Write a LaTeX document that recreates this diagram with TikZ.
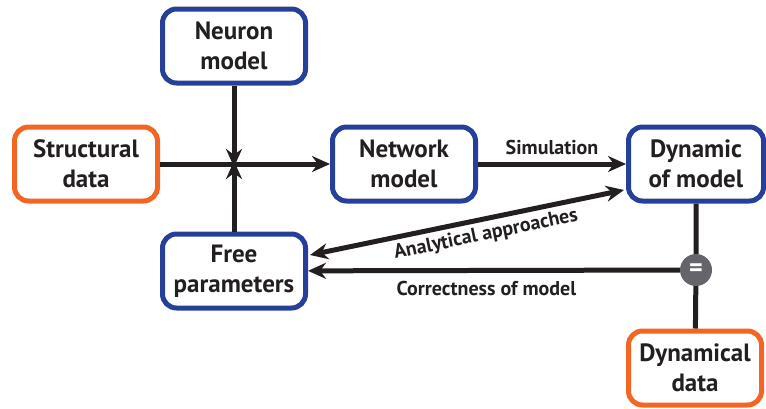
\documentclass[tikz,border=0pt]{standalone}
\usepackage{fontspec}
\setmainfont{PT Sans}
\usepackage{xcolor}
\usetikzlibrary{positioning,arrows.meta}
\definecolor{boxblue}{RGB}{38,64,154}
\definecolor{boxorange}{RGB}{242,101,34}
\definecolor{eqgray}{RGB}{100,100,106}
\definecolor{ink}{RGB}{35,31,32}

\begin{document}
\begin{tikzpicture}[
  x=1pt, y=-1pt,
  box/.style={draw=boxblue, line width=5pt, rounded corners=14pt, align=center,
    font=\bfseries\fontsize{25}{30}\selectfont, text=ink,
    minimum width=143pt, minimum height=74pt, inner sep=2pt},
  databox/.style={box, draw=boxorange},
  arr/.style={-{Stealth[length=18pt,width=16pt]}, line width=5pt, draw=ink},
  lbl/.style={font=\bfseries\fontsize{20}{22}\selectfont, text=ink}
]
\useasboundingbox (0,0) rectangle (766,408);
\node[box] (neuron) at (234,46) {Neuron\\model};
\node[databox] (struct) at (86,164) {Structural\\data};
\node[box] (network) at (404,164) {Network\\model};
\node[box, minimum width=135pt] (dyn) at (696,164) {Dynamic\\of model};
\node[box] (free) at (234,271) {Free\\parameters};
\node[databox, minimum width=133pt] (ddata) at (695,368) {Dynamical\\data};
\node[circle, fill=eqgray, minimum size=32pt, inner sep=0pt, text=white,
  font=\bfseries\fontsize{26}{26}\selectfont] (eq) at (696,270) {=};
\coordinate (junc) at (234,164);
\coordinate (dynin) at (624,190);
\coordinate (freein) at (310,255);

% inputs into the network model
\draw[arr] (struct) -- (network);
\draw[arr] (neuron) -- ([yshift=-3pt]junc);
\draw[arr] (free) -- ([yshift=3pt]junc);
% model outputs
\draw[arr] (network) -- node[lbl, above=3pt] {Simulation} (dyn);
\draw[arr, {Stealth[length=18pt,width=16pt]}-{Stealth[length=18pt,width=16pt]}]
  (freein) -- node[lbl, sloped, below=1pt, pos=0.55] {Analytical approaches} (dynin);
% comparison with data
\draw[line width=5pt, ink] (dyn) -- (eq) -- (ddata);
\draw[arr] (eq) -- node[lbl, below=5pt, pos=0.52] {Correctness of model} (free);
\end{tikzpicture}
\end{document}
